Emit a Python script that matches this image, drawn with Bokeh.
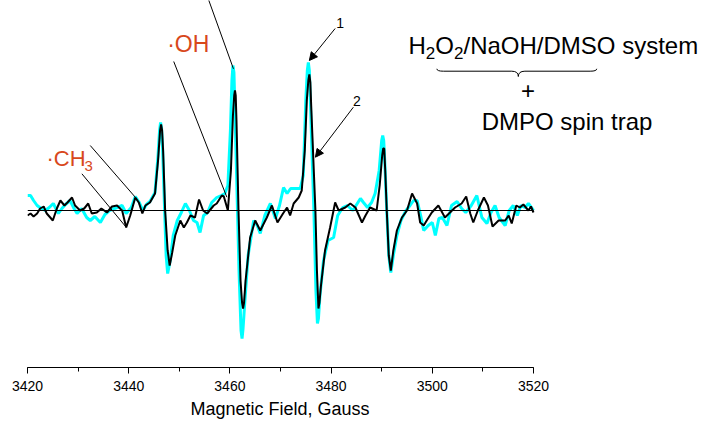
from bokeh.plotting import figure
from bokeh.models import Range1d, SingleIntervalTicker, Label, Arrow, NormalHead, Title
from bokeh.embed import file_html
from bokeh.resources import INLINE

# ---- data (field in Gauss, signal in arbitrary units) ----
# spectrum 1 (cyan)
field_1 = [3420.0, 3420.6, 3421.2, 3421.9, 3422.7, 3423.5, 3424.3, 3425.1, 3426.1, 3426.8,
           3427.5, 3428.4, 3429.2, 3429.8, 3430.7, 3431.7, 3432.4, 3433.3, 3434.4, 3435.3,
           3436.2, 3437.2, 3438.7, 3439.5, 3440.5, 3441.3, 3442.1, 3442.8, 3443.5, 3444.2,
           3445.2, 3445.8, 3446.1, 3446.3, 3446.5, 3446.7, 3447.1, 3447.4, 3447.7, 3448.2, 3448.8, 3449.6,
           3450.4, 3451.2, 3452.0, 3452.8, 3453.5, 3454.1, 3454.8, 3455.6, 3456.4, 3457.4,
           3458.3, 3459.0, 3459.6, 3460.1, 3460.4, 3460.6, 3460.8, 3461.0, 3461.4, 3461.8, 3462.2, 3462.4,
           3462.6, 3462.9,
           3463.6, 3464.7, 3465.4, 3466.0, 3466.9, 3468.0, 3469.0, 3469.8, 3470.6, 3471.3,
           3472.0, 3472.9, 3473.9, 3474.5, 3475.0, 3475.3, 3475.5, 3475.7, 3475.9, 3476.6, 3477.0, 3477.3,
           3477.5, 3477.8, 3478.5, 3479.4, 3480.5, 3481.3, 3482.3, 3483.2, 3484.3, 3485.8, 3486.4,
           3487.2, 3488.0, 3488.7, 3489.5, 3490.0, 3490.2, 3490.4, 3490.6, 3491.0, 3491.4, 3491.8, 3492.3,
           3493.0, 3493.8, 3494.8, 3495.6, 3496.3, 3497.0, 3497.7, 3498.3, 3499.2, 3500.0,
           3500.6, 3501.3, 3502.0, 3502.9, 3503.8, 3504.9, 3505.8, 3506.6, 3507.7, 3508.8,
           3509.8, 3510.8, 3511.6, 3512.4, 3513.2, 3514.4, 3515.2, 3516.0, 3516.8, 3517.5,
           3518.3, 3519.0, 3520.0]
signal_1 = [15, 15, 10, 5, 2, 0, 3, 7, -3, 2,
            6, 10, 2, -3, 2, -7, -10, -6, -12, -4,
            0, 2, 5, -3, 3, 14, 8, 0, 6, 9,
            18, 55, 80, 88, 82, 62, 0, -45, -63, -50, -25, -10,
            -2, 7, 0, -10, -12, -22, -5, -2, 8, 13,
            15, 17, 25, 80, 130, 145, 138, 100, 20, -60, -120, -128,
            -118, -95,
            -45, -10, -15, -23, -5, 7, -8, 5, 23, 17,
            22, 22, 22, 35, 110, 140, 148, 140, 110, 0, -80, -113,
            -108, -85, -50, -30, -27, -5, 3, 5, 0, 12, 8,
            3, 8, 17, 40, 70, 75, 70, 50, 0, -45, -62, -45,
            -25, -10, 0, 5, 10, 10, -5, -20, -15, -12,
            -25, -8, -7, -15, 5, 9, 2, -2, 5, 15,
            -7, -13, -2, 5, -7, -15, 0, 5, -5, 5,
            3, 7, 0]

# spectrum 2 (black)
field_2 = [3420.0, 3420.6, 3421.2, 3421.9, 3422.5, 3423.2, 3423.8, 3424.5, 3425.0, 3425.8,
           3426.5, 3427.3, 3427.9, 3428.8, 3429.4, 3430.4, 3431.2, 3432.0, 3432.7, 3433.7,
           3434.6, 3435.7, 3436.7, 3437.7, 3438.7, 3439.5, 3440.3, 3441.3, 3442.0, 3442.7,
           3443.3, 3444.2, 3445.2, 3445.8, 3446.2, 3446.4, 3446.6, 3446.8, 3447.2, 3447.7, 3448.1, 3448.6,
           3449.2, 3450.2, 3450.9, 3451.5, 3452.2, 3453.1, 3453.9, 3454.7, 3455.5, 3456.8,
           3457.4, 3458.4, 3458.8, 3459.6, 3460.2, 3460.6, 3460.85, 3461.0, 3461.15, 3461.3, 3461.7, 3462.1,
           3462.4, 3462.6, 3462.8, 3463.1, 3464.0, 3465.0, 3466.0, 3467.3, 3468.3, 3469.4, 3470.5, 3471.3,
           3471.9, 3472.6, 3473.6, 3474.2, 3474.8, 3475.2, 3475.5, 3475.7, 3475.9, 3476.1, 3476.9, 3477.2,
           3477.5, 3477.7, 3478.0, 3478.8, 3479.8, 3480.8, 3481.5, 3482.8, 3483.8, 3484.8, 3486.1,
           3486.8, 3487.7, 3489.0, 3489.6, 3490.1, 3490.3, 3490.5, 3490.7, 3491.0, 3491.4, 3491.8,
           3492.3, 3493.0, 3494.0, 3495.0, 3496.0, 3497.0, 3497.6, 3498.3, 3498.9, 3499.9,
           3501.2, 3502.5, 3503.5, 3504.5, 3505.8, 3506.7, 3507.5, 3508.1, 3509.0, 3510.2,
           3511.0, 3511.9, 3513.1, 3514.4, 3515.1, 3515.7, 3516.6, 3517.3, 3518.0, 3519.0,
           3519.5, 3520.0]
signal_2 = [-5, -3, -6, -3, 2, 4, -3, -7, -10, 2,
            10, 5, 8, 13, 5, 0, 2, 7, -3, -2,
            2, -2, 4, 5, 0, -17, -5, 13, 8, -3,
            5, 8, 17, 50, 80, 86, 80, 60, 0, -40, -55, -42,
            -25, -10, -17, -12, -5, -7, 11, 0, -3, 5,
            7, 15, 14, 0, 40, 95, 115, 120, 115, 90, 0, -70,
            -92, -98, -92, -70, -27, -10, -20, -7, 5, -12, -3, 3,
            -5, 7, 13, 20, 60, 110, 130, 136, 128, 100, 0, -60,
            -98, -92, -75, -40, -17, 8, 0, 3, 7, 3, -12,
            -5, 3, 0, 25, 55, 62, 62, 40, 0, -45, -60,
            -40, -20, -7, 0, 17, 7, -12, -15, -10, -2,
            5, -7, -2, 3, 7, 14, -3, -12, 0, 13,
            5, -16, -10, -10, -5, -13, 5, 3, 6, 0,
            4, -2]

x_start, x_end = 3420, 3520
x_title = "Magnetic Field, Gauss"

FONT = "Liberation Sans"
RED = "#d8481c"
CYAN = "#00ffff"

p = figure(width=701, height=425, output_backend="svg", toolbar_location=None,
           x_range=Range1d(3420, 3420 + 674 / 5.06), y_range=Range1d(-157, 210),
           y_axis_location=None,
           min_border_left=27, min_border_right=0, min_border_top=0, min_border_bottom=58)
p.outline_line_color = None
p.grid.visible = False
p.background_fill_color = "white"
p.border_fill_color = "white"

ax = p.xaxis[0]
ax.bounds = (x_start, x_end)
ax.ticker = SingleIntervalTicker(interval=20, num_minor_ticks=2)
ax.major_tick_in = 0
ax.major_tick_out = 6
ax.minor_tick_in = 0
ax.minor_tick_out = 4
ax.axis_line_color = "black"
ax.major_tick_line_color = "black"
ax.minor_tick_line_color = "black"
ax.major_label_text_font = FONT
ax.major_label_text_font_size = "14px"
ax.major_label_text_color = "black"
ax.major_label_standoff = 7

p.add_layout(Title(text=x_title, align="left", offset=163, text_font=FONT,
                   text_font_size="18px", text_font_style="normal",
                   text_color="black", standoff=6), "below")

# spectra
p.line(field_1, signal_1, line_color=CYAN, line_width=3)
p.line(field_2, signal_2, line_color="black", line_width=2)
# zero line
p.segment(x0=[x_start], y0=[0], x1=[x_end], y1=[0], line_color="black", line_width=1)

# leader lines
p.segment(x0=[3455.7, 3448.9, 3432.4, 3430.75],
          y0=[212, 149, 65, 36.7],
          x1=[3460.7, 3459.4, 3441.3, 3439.5],
          y1=[141.7, 13.3, 13.3, -16.7],
          line_color="black", line_width=1)

# arrows 1 and 2
for xs, ys, xe, ye in [(3480.8, 182, 3475.7, 150), (3484.4, 103.3, 3476.9, 53.3)]:
    p.add_layout(Arrow(x_start=xs, y_start=ys, x_end=xe, y_end=ye, line_width=1,
                       line_color="black",
                       end=NormalHead(size=8, fill_color="black", line_color="black")))


def lab(text, x, y, size, color="black", align="left"):
    p.add_layout(Label(x=x, y=y, text=text, text_font=FONT, text_font_size=size,
                       text_color=color, text_align=align, text_baseline="middle"))


lab("1", 3481.8, 188, "14px", align="center")
lab("2", 3485.1, 110, "14px", align="center")
lab("·OH", 3447.6, 166.7, "23px", color=RED)
lab("·CH", 3423.75, 51.7, "22px", color=RED)
lab("3", 3431.26, 44.2, "15px", color=RED)
# H2O2/NaOH/DMSO system with subscripts
lab("H", 3495.30, 165.3, "24px")
lab("2", 3498.72, 157.5, "17px")
lab("O", 3500.59, 165.3, "24px")
lab("2", 3504.29, 157.5, "17px")
lab("/NaOH/DMSO system", 3506.17, 165.3, "24px")
lab("+", 3518.9, 120, "24px", align="center")
lab("DMPO spin trap", 3509.75, 89.2, "24px")

# curly brace under the reaction system
ga, gm, gb = 3500.9, 3517.0, 3532.5
y_end, y_mid, y_tip = 141.7, 139.3, 134
d = 1.3
p.quadratic(x0=[ga, gm - d, gb, gm + d], y0=[y_end, y_mid, y_end, y_mid],
            x1=[ga + d, gm, gb - d, gm], y1=[y_mid, y_tip, y_mid, y_tip],
            cx=[ga, gm, gb, gm], cy=[y_mid, y_mid, y_mid, y_mid],
            line_color="black", line_width=1)
p.segment(x0=[ga + d, gm + d], y0=[y_mid, y_mid], x1=[gm - d, gb - d], y1=[y_mid, y_mid],
          line_color="black", line_width=1)

open("out.html", "w").write(file_html(p, INLINE))
